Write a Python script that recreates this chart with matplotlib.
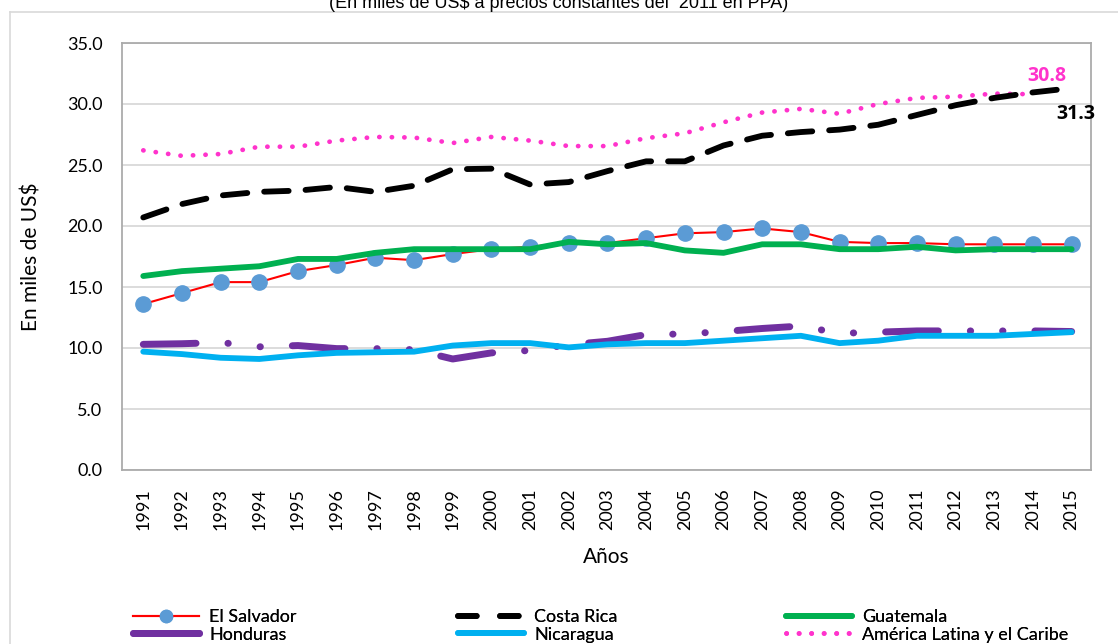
import matplotlib
matplotlib.use('Agg')
import matplotlib.pyplot as plt
from matplotlib.lines import Line2D

years = list(range(1991, 2016))

el_salvador = [13.6, 14.5, 15.4, 15.4, 16.3, 16.8, 17.4, 17.2, 17.7, 18.1, 18.3, 18.6, 18.6,
               19.0, 19.4, 19.5, 19.8, 19.5, 18.7, 18.6, 18.6, 18.5, 18.5, 18.5, 18.5]
costa_rica = [20.7, 21.8, 22.5, 22.8, 22.9, 23.2, 22.8, 23.3, 24.65, 24.7, 23.4, 23.6, 24.5,
              25.3, 25.3, 26.6, 27.4, 27.7, 27.9, 28.3, 29.1, 29.9, 30.5, 30.95, 31.3]
guatemala = [15.9, 16.3, 16.5, 16.7, 17.3, 17.3, 17.8, 18.1, 18.1, 18.1, 18.1, 18.7, 18.5,
             18.6, 18.0, 17.8, 18.5, 18.5, 18.1, 18.1, 18.3, 18.0, 18.1, 18.1, 18.1]
honduras = [10.3, 10.35, 10.45, 10.1, 10.2, 9.95, 9.95, 9.86, 9.1, 9.6, 9.8, 10.27, 10.55,
            11.1, 11.15, 11.35, 11.6, 11.8, 11.2, 11.3, 11.4, 11.4, 11.4, 11.4, 11.35]
nicaragua = [9.7, 9.5, 9.2, 9.1, 9.4, 9.6, 9.65, 9.7, 10.2, 10.4, 10.4, 10.05, 10.3,
             10.4, 10.4, 10.6, 10.8, 11.0, 10.4, 10.6, 11.0, 11.0, 11.0, 11.15, 11.3]
# America Latina y el Caribe: data ends in 2014
alc_years = list(range(1991, 2015))
alc = [26.2, 25.75, 25.9, 26.5, 26.5, 27.0, 27.3, 27.25, 26.8, 27.3, 27.0, 26.55, 26.55,
       27.2, 27.6, 28.5, 29.3, 29.6, 29.2, 30.0, 30.5, 30.6, 30.85, 30.8]

yticks = [0, 5, 10, 15, 20, 25, 30, 35]

plt.rcParams['font.family'] = ['Lato', 'DejaVu Sans']

fig = plt.figure(figsize=(11.18, 6.44), dpi=100)
ax = fig.add_axes([122/1118, 1-470/644, (1091-122)/1118, (470-43)/644])

# outer chart border (partly cut in the reference)
fig.add_artist(Line2D([10/1118, 10/1118], [0, 1-12/644], color='#D9D9D9', lw=1.2))
fig.add_artist(Line2D([10/1118, 1], [1-12/644, 1-12/644], color='#D9D9D9', lw=1.2))

l_es, = ax.plot(years, el_salvador, color='#FF0000', lw=1.5, marker='o', markersize=11,
                markerfacecolor='#5B9BD5', markeredgecolor='#5B9BD5', label='El Salvador', zorder=3)
l_gu, = ax.plot(years, guatemala, color='#00B050', lw=4.2, label='Guatemala', zorder=4,
                solid_capstyle='round')
l_cr, = ax.plot(years, costa_rica, color='#000000', lw=4.2, linestyle=(0, (4.2, 2.9)),
                dash_capstyle='round', label='Costa Rica', zorder=4)
l_hn, = ax.plot(years, honduras, color='#7030A0', lw=5, linestyle=(0, (7.6, 4.6, 0.05, 4.6, 0.05, 4.6)),
                dash_capstyle='round', label='Honduras', zorder=3)
l_ni, = ax.plot(years, nicaragua, color='#00B0F0', lw=4.2, label='Nicaragua', zorder=4,
                solid_capstyle='round')
l_al, = ax.plot(alc_years, alc, color='#FF33CC', lw=3.4, linestyle=(0, (0.05, 2.6)),
                dash_capstyle='round', label='América Latina y el Caribe', zorder=3)

ax.text(2014.35, 31.45, '30.8', color='#FF33CC', fontsize=14, fontweight='bold',
        ha='center', va='bottom', family='Open Sans')
ax.text(2015.1, 29.2, '31.3', color='#000000', fontsize=14, fontweight='bold',
        ha='center', va='center', family='Open Sans')

ax.set_xlim(1990.45, 2015.5)
ax.set_ylim(0, 35)
ax.set_yticks(yticks)
ax.set_yticklabels([f'{v:.1f}' for v in yticks], fontsize=13)
ax.set_xticks(years)
ax.set_xticklabels([str(y) for y in years], rotation=90, fontsize=13)
ax.tick_params(length=0)
ax.tick_params(axis='x', pad=13)
ax.tick_params(axis='y', pad=14)
ax.grid(axis='y', color='#D9D9D9', lw=1.3)
ax.set_axisbelow(True)
for s in ax.spines.values():
    s.set_color('#ABABAB')
    s.set_linewidth(1.3)

ax.set_xlabel('Años', fontsize=15, labelpad=12)
ax.set_ylabel('En miles de US\\$', fontsize=15, labelpad=18)

fig.text(0.5, 1 - 8/644, '(En miles de US\\$ a precios constantes del  2011 en PPA)',
         ha='center', va='baseline', fontsize=13, family='Liberation Sans')

# legend samples drawn as in the reference: solid Honduras, two-dash Costa Rica
hn_proxy = Line2D([], [], color='#7030A0', lw=5, solid_capstyle='round', label='Honduras')
cr_proxy = Line2D([], [], color='#000000', lw=4.2, linestyle=(0, (3.2, 4.0)),
                  dash_capstyle='round', label='Costa Rica')

# legend in three columns, positioned separately
legend_cols = [([l_es, hn_proxy], 137), ([cr_proxy, l_ni], 462), ([l_gu, l_al], 790)]
for handles, xpix in legend_cols:
    leg = fig.legend(handles=handles, loc='upper left',
                     bbox_to_anchor=(xpix/1118 - 0.004, 1 - 609/644),
                     frameon=False, fontsize=13, handlelength=3.7, handletextpad=0.55,
                     labelspacing=0.1, borderpad=0, borderaxespad=0, markerscale=0.8)
    fig.add_artist(leg)

fig.savefig('out.png', dpi=100)
